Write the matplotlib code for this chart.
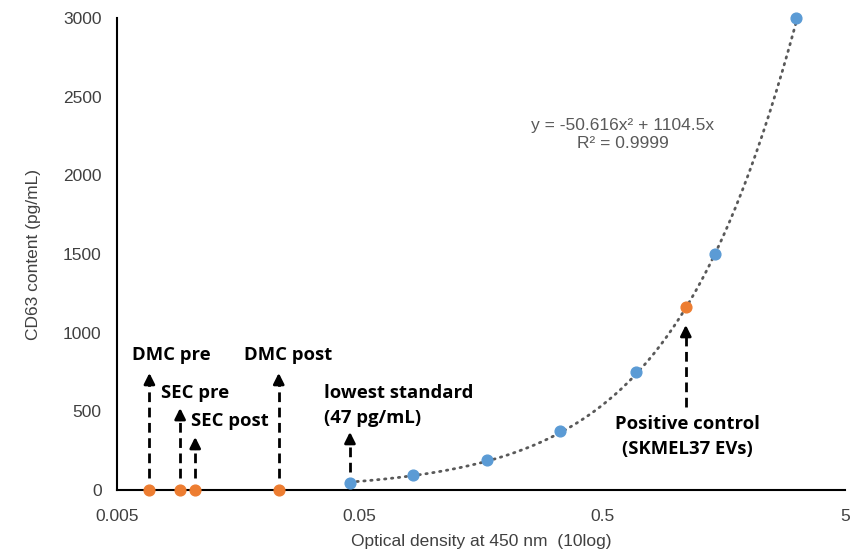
import matplotlib.pyplot as plt
import numpy as np

# standards (blue) and samples (orange)
std_od = [0.0456, 0.083, 0.167, 0.334, 0.688, 1.455, 3.14]
std_conc = [47, 94, 188, 375, 750, 1500, 3000]
sample_names = ['DMC pre', 'SEC pre', 'SEC post', 'DMC post', 'Positive control']
sample_od = [0.0068, 0.0091, 0.0105, 0.0232, 1.104]
sample_conc = [0, 0, 0, 0, 1160]

# polynomial trendline (order 2, intercept 0) as shown on chart
coef_a = -50.616
coef_b = 1104.5

x_ticks = [0.005, 0.05, 0.5, 5]
x_tick_labels = ['0.005', '0.05', '0.5', '5']
y_ticks = [0, 500, 1000, 1500, 2000, 2500, 3000]

blue = '#5B9BD5'
orange = '#ED7D31'
gray = '#404040'

fig = plt.figure(figsize=(8.52, 5.54), dpi=100)
ax = fig.add_axes([117 / 852, 1 - 490 / 554, 728 / 852, 472 / 554])

ax.set_xscale('log')
ax.set_xlim(0.005, 5)
ax.set_ylim(0, 3000)

# trendline across the standards range
xt = np.logspace(np.log10(std_od[0]), np.log10(std_od[-1]), 200)
ax.plot(xt, coef_a * xt ** 2 + coef_b * xt, color='#595959', lw=2,
        linestyle=(0, (0.5, 2.0)), dash_capstyle='round', zorder=3)

ax.scatter(std_od, std_conc, s=60, color=blue, zorder=4, clip_on=False)
ax.scatter(sample_od, sample_conc, s=60, color=orange, zorder=4, clip_on=False)

for s in ['top', 'right']:
    ax.spines[s].set_visible(False)
for s in ['left', 'bottom']:
    ax.spines[s].set_linewidth(1.5)
    ax.spines[s].set_color('black')

ax.set_xticks(x_ticks)
ax.set_xticklabels(x_tick_labels)
ax.xaxis.set_minor_locator(plt.NullLocator())
ax.set_yticks(y_ticks)
ax.tick_params(axis='both', length=0, labelsize=12.5, colors=gray,
               labelfontfamily='Liberation Sans')
ax.tick_params(axis='x', pad=14)
ax.tick_params(axis='y', pad=11)

ax.set_xlabel('Optical density at 450 nm  (10log)', fontsize=12.5,
              family='Liberation Sans', color=gray, labelpad=7)
ax.set_ylabel('CD63 content (pg/mL)', fontsize=12.5,
              family='Liberation Sans', color=gray, labelpad=16)


def dashed_arrow(x, y0, y1):
    ax.plot([x, x], [y0, y1 - 60], color='black', lw=2,
            linestyle=(0, (3.5, 2)), zorder=5)
    ax.annotate('', xy=(x, y1), xytext=(x, y1 - 75),
                arrowprops=dict(arrowstyle='-|>', color='black', lw=2,
                                mutation_scale=16, shrinkA=0, shrinkB=0),
                zorder=5)


dashed_arrow(sample_od[0], 76, 744)
dashed_arrow(sample_od[1], 76, 521)
dashed_arrow(sample_od[2], 76, 337)
dashed_arrow(sample_od[3], 76, 744)
dashed_arrow(std_od[0], 114, 369)
dashed_arrow(sample_od[4], 528, 1049)

lab = dict(fontsize=13.3, fontweight='bold', family='Open Sans', color='black')
ax.text(0.00576, 858, sample_names[0], ha='left', va='center', **lab)
ax.text(0.00759, 617, sample_names[1], ha='left', va='center', **lab)
ax.text(0.0101, 439, sample_names[2], ha='left', va='center', **lab)
ax.text(0.0167, 858, sample_names[3], ha='left', va='center', **lab)
ax.text(0.0356, 537, 'lowest standard\n(47 pg/mL)', ha='left', va='center',
        linespacing=1.5, **lab)
ax.text(1.12, 337, 'Positive control\n(SKMEL37 EVs)', ha='center', va='center',
        linespacing=1.5, **lab)

ax.text(0.608, 2257, 'y = -50.616x\u00b2 + 1104.5x\nR\u00b2 = 0.9999', ha='center',
        va='center', fontsize=12.5, family='Liberation Sans', color='#595959',
        linespacing=1.25)

fig.savefig('out.png', dpi=100)
